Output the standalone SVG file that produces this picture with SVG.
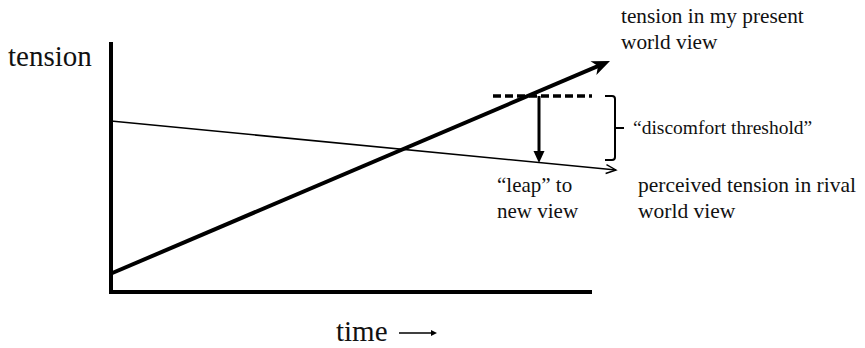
<svg xmlns="http://www.w3.org/2000/svg" width="865" height="348" viewBox="0 0 865 348">
  <style>
    text { font-family: "Liberation Serif", "Times New Roman", serif; fill: #111; }
    .big { font-size: 29px; }
    .lbl { font-size: 21px; }
    .top { font-size: 21.3px; }
    .thr { font-size: 19.5px; }
    .riv { font-size: 21.5px; }
    .axis { stroke: #000; stroke-width: 4; fill: none; }
  </style>
  <defs>
    <marker id="headThick" markerUnits="userSpaceOnUse" viewBox="-10 -10 22 20" markerWidth="22" markerHeight="20" refX="0" refY="0" orient="auto">
      <path d="M10,0 L-8,-7.5 L-3,0 L-8,7.5 Z" fill="#000"/>
    </marker>
    <marker id="headThin" markerUnits="userSpaceOnUse" viewBox="-12 -8 14 16" markerWidth="14" markerHeight="16" refX="0" refY="0" orient="auto">
      <path d="M-10,-4.5 L0,0 L-10,4.5" fill="none" stroke="#000" stroke-width="1.4"/>
    </marker>
    <marker id="headSolid" markerUnits="userSpaceOnUse" viewBox="-2 -7 16 14" markerWidth="16" markerHeight="14" refX="0" refY="0" orient="auto">
      <path d="M12,0 L0,-5.5 L0,5.5 Z" fill="#000"/>
    </marker>
    <marker id="headSmall" markerUnits="userSpaceOnUse" viewBox="-2 -5 10 10" markerWidth="10" markerHeight="10" refX="0" refY="0" orient="auto">
      <path d="M6,0 L0,-3 L0,3 Z" fill="#000"/>
    </marker>
  </defs>

  <g id="axes">
    <line class="axis" x1="111" y1="42" x2="111" y2="294"/>
    <line class="axis" x1="109" y1="292" x2="592" y2="292"/>
  </g>

  <g id="connectors">
    <line x1="111" y1="121" x2="616" y2="170" stroke="#000" stroke-width="1.5" marker-end="url(#headThin)"/>
    <line x1="110" y1="274" x2="600.8" y2="64.9" stroke="#000" stroke-width="4" marker-end="url(#headThick)"/>
    <line x1="493" y1="96" x2="592" y2="96" stroke="#000" stroke-width="3.5" stroke-dasharray="8 4"/>
    <line x1="539" y1="96" x2="539" y2="151" stroke="#000" stroke-width="3" marker-end="url(#headSolid)"/>
    <path d="M605,96 H612 Q615,96 615,99 V157 Q615,160 612,160 H605 M615,128 H624" fill="none" stroke="#000" stroke-width="2"/>
  </g>

  <g id="label-tension">
    <text class="big" x="8" y="66">tension</text>
  </g>
  <g id="label-time">
    <text class="big" x="336" y="341">time</text>
    <line x1="399" y1="333" x2="431" y2="333" stroke="#000" stroke-width="1.5" marker-end="url(#headSmall)"/>
  </g>
  <g id="label-present">
    <text class="top" x="621" y="23">tension in my present</text>
    <text class="top" x="621" y="49">world view</text>
  </g>
  <g id="label-threshold">
    <text class="thr" x="633" y="134">“discomfort threshold”</text>
  </g>
  <g id="label-rival">
    <text class="riv" x="638" y="192">perceived tension in rival</text>
    <text class="riv" x="638" y="218">world view</text>
  </g>
  <g id="label-leap">
    <text class="lbl" x="497" y="192">“leap” to</text>
    <text class="lbl" x="497" y="218">new view</text>
  </g>
</svg>
